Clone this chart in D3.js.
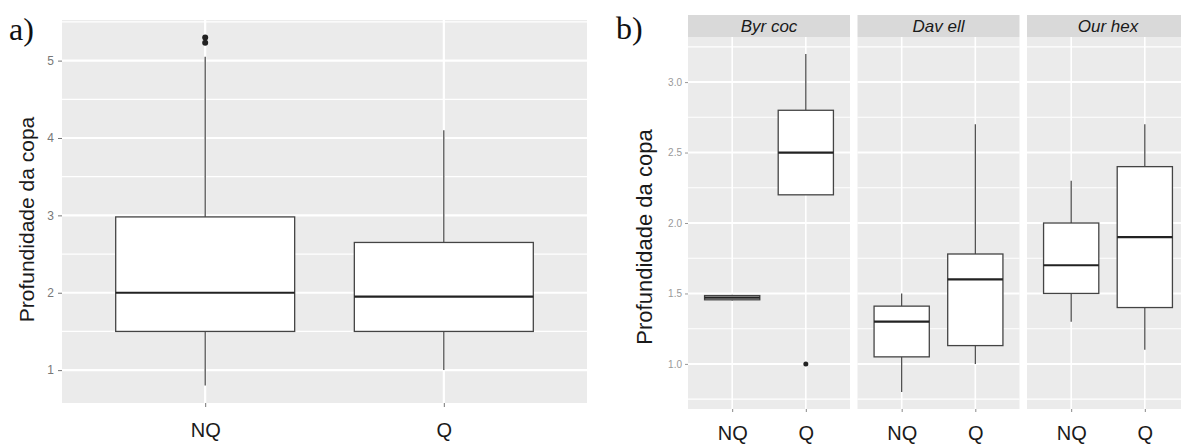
<!DOCTYPE html>
<html><head><meta charset="utf-8">
<script src="https://cdn.jsdelivr.net/npm/d3@7"></script>
<style>body{margin:0;background:#fff}svg{display:block}</style>
</head><body>
<svg id="c" width="1181" height="445"></svg>
<script>
// ---- Data panel a ----
const groupsA = ["NQ", "Q"];
const aLower = [0.8, 1.0];
const aQ1 = [1.5, 1.5];
const aMedian = [2.0, 1.95];
const aQ3 = [2.98, 2.65];
const aUpper = [5.05, 4.1];
const aOutliers = [[5.23, 5.3], []];
const aTicks = [1, 2, 3, 4, 5];

// ---- Data panel b ----
const facets = ["Byr coc", "Dav ell", "Our hex"];
const groupsB = ["NQ", "Q"];
const bLower = [[1.45, 2.2], [0.8, 1.0], [1.3, 1.1]];
const bQ1 = [[1.455, 2.2], [1.05, 1.13], [1.5, 1.4]];
const bMedian = [[1.47, 2.5], [1.3, 1.6], [1.7, 1.9]];
const bQ3 = [[1.485, 2.8], [1.41, 1.78], [2.0, 2.4]];
const bUpper = [[1.49, 3.2], [1.5, 2.7], [2.3, 2.7]];
const bOutliers = [[[], [1.0]], [[], []], [[], []]];
const bTicks = [1.0, 1.5, 2.0, 2.5, 3.0];

const svg = d3.select("#c");
const SANS = "'Liberation Sans', Arial, sans-serif";
const SERIF = "'Liberation Serif', 'Times New Roman', serif";

function drawBox(g, x, y, cx, bw, lo, q1, med, q3, hi, outs, rOut) {
  g.append("line").attr("x1", cx).attr("x2", cx).attr("y1", y(hi)).attr("y2", y(q3))
    .attr("stroke", "#444").attr("stroke-width", 1.2);
  g.append("line").attr("x1", cx).attr("x2", cx).attr("y1", y(q1)).attr("y2", y(lo))
    .attr("stroke", "#444").attr("stroke-width", 1.2);
  g.append("rect").attr("x", cx - bw / 2).attr("width", bw)
    .attr("y", y(q3)).attr("height", Math.max(y(q1) - y(q3), 0.5))
    .attr("fill", "#fff").attr("stroke", "#444").attr("stroke-width", 1.3);
  g.append("line").attr("x1", cx - bw / 2).attr("x2", cx + bw / 2)
    .attr("y1", y(med)).attr("y2", y(med)).attr("stroke", "#222").attr("stroke-width", 2.2);
  outs.forEach(o => g.append("circle").attr("cx", cx).attr("cy", y(o)).attr("r", rOut).attr("fill", "#222"));
}

// ================= Panel a =================
{
  const L = 62, R = 587, T = 20, B = 403;
  const y = d3.scaleLinear().domain([0.575, 5.525]).range([B, T]);
  const x = d3.scalePoint().domain(groupsA).range([L, R]).padding(0.6);
  const g = svg.append("g");
  g.append("rect").attr("x", L).attr("y", T).attr("width", R - L).attr("height", B - T).attr("fill", "#ebebeb");
  const minor = d3.range(0.5, 5.6, 1).filter(v => v >= 0.575 && v <= 5.525);
  g.selectAll(".mn").data(minor).join("line").attr("x1", L).attr("x2", R)
    .attr("y1", d => y(d)).attr("y2", d => y(d)).attr("stroke", "#fff").attr("stroke-width", 1.2);
  g.selectAll(".mj").data(aTicks).join("line").attr("x1", L).attr("x2", R)
    .attr("y1", d => y(d)).attr("y2", d => y(d)).attr("stroke", "#fff").attr("stroke-width", 2.2);
  g.selectAll(".vx").data(groupsA).join("line").attr("x1", d => x(d)).attr("x2", d => x(d))
    .attr("y1", T).attr("y2", B).attr("stroke", "#fff").attr("stroke-width", 2.2);
  const bw = x.step() * 0.75;
  groupsA.forEach((k, i) => drawBox(g, x, y, x(k), bw, aLower[i], aQ1[i], aMedian[i], aQ3[i], aUpper[i], aOutliers[i], 3));
  const ya = g.append("g").attr("transform", `translate(${L},0)`)
    .call(d3.axisLeft(y).tickValues(aTicks).tickSize(4).tickPadding(4).tickFormat(d3.format("d")));
  ya.select(".domain").remove();
  ya.selectAll("line").attr("stroke", "#777");
  ya.selectAll("text").attr("fill", "#777").style("font", `12px ${SANS}`);
  const xa = g.append("g").attr("transform", `translate(0,${B})`)
    .call(d3.axisBottom(x).tickSize(4).tickPadding(16));
  xa.select(".domain").remove();
  xa.selectAll("line").attr("stroke", "#777");
  xa.selectAll("text").attr("fill", "#1a1a1a").style("font", `20px ${SANS}`);
  g.append("text").attr("transform", `translate(34,${(T + B) / 2 + 8}) rotate(-90)`)
    .attr("text-anchor", "middle").attr("fill", "#1a1a1a").style("font", `21px ${SANS}`)
    .text("Profundidade da copa");
  g.append("text").attr("x", 9).attr("y", 40).attr("fill", "#111")
    .style("font", `32px ${SERIF}`).text("a)");
}

// ================= Panel b =================
{
  const T0 = 15, T = 37, B = 409, X0 = 688, W = 162, GAP = 7.5;
  const y = d3.scaleLinear().domain([0.68, 3.32]).range([B, T]);
  const fx = d3.scaleBand().domain(facets).range([X0, X0 + 3 * W + 2 * GAP]).paddingInner(GAP / (W + GAP));
  const g = svg.append("g");
  facets.forEach((f, fi) => {
    const L = fx(f), R = L + fx.bandwidth();
    const x = d3.scalePoint().domain(groupsB).range([L, R]).padding(0.6);
    g.append("rect").attr("x", L).attr("y", T0).attr("width", R - L).attr("height", T - T0).attr("fill", "#d9d9d9");
    g.append("text").attr("x", (L + R) / 2).attr("y", T - 5.5).attr("text-anchor", "middle")
      .attr("fill", "#1a1a1a").style("font", `italic 17px ${SANS}`).text(f);
    g.append("rect").attr("x", L).attr("y", T).attr("width", R - L).attr("height", B - T).attr("fill", "#ebebeb");
    const minor = [0.75, 1.25, 1.75, 2.25, 2.75, 3.25];
    g.append("g").selectAll("line").data(minor).join("line").attr("x1", L).attr("x2", R)
      .attr("y1", d => y(d)).attr("y2", d => y(d)).attr("stroke", "#fff").attr("stroke-width", 1.1);
    g.append("g").selectAll("line").data(bTicks).join("line").attr("x1", L).attr("x2", R)
      .attr("y1", d => y(d)).attr("y2", d => y(d)).attr("stroke", "#fff").attr("stroke-width", 2);
    g.append("g").selectAll("line").data(groupsB).join("line").attr("x1", d => x(d)).attr("x2", d => x(d))
      .attr("y1", T).attr("y2", B).attr("stroke", "#fff").attr("stroke-width", 1.6);
    const bw = x.step() * 0.75;
    groupsB.forEach((k, i) => drawBox(g, x, y, x(k), bw, bLower[fi][i], bQ1[fi][i], bMedian[fi][i], bQ3[fi][i], bUpper[fi][i], bOutliers[fi][i], 2.5));
    const xa = g.append("g").attr("transform", `translate(0,${B})`)
      .call(d3.axisBottom(x).tickSize(3).tickPadding(14));
    xa.select(".domain").remove();
    xa.selectAll("line").attr("stroke", "#888");
    xa.selectAll("text").attr("fill", "#1a1a1a").style("font", `20px ${SANS}`);
  });
  const ya = g.append("g").attr("transform", `translate(${X0},0)`)
    .call(d3.axisLeft(y).tickValues(bTicks).tickSize(3).tickPadding(3).tickFormat(d3.format(".1f")));
  ya.select(".domain").remove();
  ya.selectAll("line").attr("stroke", "#999");
  ya.selectAll("text").attr("fill", "#999").style("font", `10px ${SANS}`);
  g.append("text").attr("transform", `translate(652,${237}) rotate(-90)`)
    .attr("text-anchor", "middle").attr("fill", "#1a1a1a").style("font", `22px ${SANS}`)
    .text("Profundidade da copa");
  g.append("text").attr("x", 616).attr("y", 39).attr("fill", "#111")
    .style("font", `32px ${SERIF}`).text("b)");
}
</script>
</body></html>
